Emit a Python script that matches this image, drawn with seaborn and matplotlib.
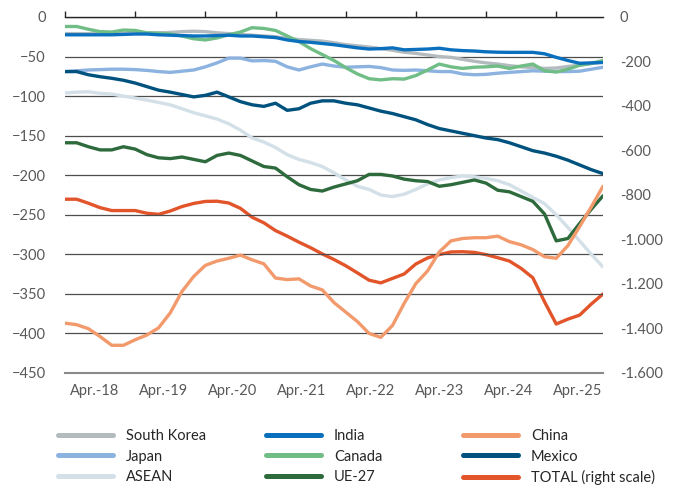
import matplotlib
matplotlib.use("Agg")
import matplotlib.pyplot as plt
import seaborn as sns
import pandas as pd
from matplotlib.lines import Line2D
from matplotlib.ticker import FuncFormatter

# ---- data (month index 0..92, sampled every 2 months) ----
months = list(range(0, 93, 2))
tick_labels = ["Apr.-18", "Apr.-19", "Apr.-20", "Apr.-21",
               "Apr.-22", "Apr.-23", "Apr.-24", "Apr.-25"]

south_korea = [-21, -21, -21, -20.5, -20.5, -20.5, -20, -20, -20, -19.5, -18.5, -18, -18.5, -20, -21, -22,
               -23, -24, -25, -27, -28.5, -29.5, -30.5, -32.5, -35, -36.5, -38, -40, -42, -44.5, -46, -48,
               -50, -51, -53.5, -56, -58, -59.5, -61.5, -63, -64, -65, -64.5, -62.5, -61, -59, -57]
india = [-22.5, -22.5, -22.5, -22.5, -22.5, -22, -21.5, -21.5, -22.5, -23, -23.5, -24, -24, -23.5, -23, -24,
         -24, -25, -26, -29, -31, -32, -33.5, -35, -37, -39, -40.5, -40, -39, -41.5, -41, -40.5,
         -39.5, -41.5, -42.5, -43, -44, -44.5, -44.7, -44.7, -44.7, -46.5, -51, -55, -58.5, -58, -57.5]
china = [-387, -389, -394, -404, -415, -415, -408, -402, -393, -374, -347, -328, -314, -308.5, -305, -301,
         -307, -312, -330, -332, -331, -340, -345, -361, -373, -385, -400, -405, -390, -362, -337, -321,
         -297, -283, -280, -279, -279, -277, -284, -288, -294, -303, -305, -289, -265, -240, -214]
japan = [-69, -68, -67, -66.5, -66, -66, -66.5, -67.5, -69, -70, -68.5, -67, -63, -58, -52, -52,
         -55.5, -55, -56, -63, -67, -63, -59.5, -62, -63.5, -63, -62.5, -64, -67, -67.5, -67, -68,
         -69, -69, -72, -73, -72.5, -71, -70, -69, -68, -68.5, -69, -69, -68.5, -66, -63.5]
canada = [-12, -12, -15.5, -18.5, -19, -16.5, -17, -20, -20.5, -21.5, -24, -27.5, -29, -26.5, -22.5, -19,
          -13.5, -14.5, -17, -24, -31, -40, -47.5, -55, -64, -72, -78, -79.5, -78, -78.5, -74, -67,
          -59.5, -63, -65, -63.5, -63, -62, -65, -62, -59.5, -68, -69.5, -66, -61, -58.5, -55]
mexico = [-69, -69, -73, -75.5, -77.5, -80, -83.5, -88, -92.5, -95, -98, -101, -99, -95, -101, -107,
          -111, -113, -109, -118, -116, -109, -106, -106, -109, -111, -115, -119, -122, -126, -130, -136,
          -141, -144, -147, -150, -153, -155, -159, -164, -169, -172, -176, -181, -187, -193, -198]
asean = [-96, -95, -94.5, -96.5, -97.5, -100, -102.5, -105, -108, -111, -116, -121, -125, -129, -135, -143,
         -153, -158, -165, -174, -180, -184, -189, -197, -206, -214, -218, -225, -227, -224, -218, -211,
         -206, -203, -201, -202, -204, -207, -212, -220, -228, -236, -250, -266, -283, -300, -316]
ue27 = [-159, -159, -164, -168, -168, -164, -167, -174, -178, -179, -177, -180, -183, -175, -172, -175,
        -182, -189, -191, -202, -212, -218, -220, -215, -211, -207, -199, -199, -201, -205, -207, -208,
        -214, -212, -209, -206, -210, -219, -221, -227, -233, -249, -283, -280, -261, -243, -226]
total = [-819, -819, -837, -857, -870, -870, -870, -882, -887, -872, -852, -838, -829, -828, -836, -860,
         -900, -925, -960, -985, -1012, -1037, -1065, -1090, -1118, -1150, -1183, -1195, -1175, -1155, -1110, -1083,
         -1068, -1056, -1055, -1058, -1068, -1082, -1097, -1130, -1172, -1280, -1380, -1358, -1340, -1290, -1245]

colors = {
    "South Korea": "#b3bbbe",
    "India": "#0a70bd",
    "China": "#f39a6d",
    "Japan": "#8cb2e0",
    "Canada": "#70bd86",
    "Mexico": "#00527e",
    "ASEAN": "#d3e0e8",
    "UE-27": "#2d6a3c",
    "TOTAL (right scale)": "#e2542a",
}

left = pd.DataFrame({"month": months, "South Korea": south_korea, "India": india, "China": china,
                     "Japan": japan, "Canada": canada, "Mexico": mexico, "ASEAN": asean, "UE-27": ue27})
left_long = left.melt(id_vars="month", var_name="series", value_name="value")
right = pd.DataFrame({"month": months, "value": total})

draw_order = ["ASEAN", "South Korea", "Japan", "Canada", "India", "Mexico", "UE-27", "China"]

sns.set_theme(style="white")
plt.rcParams["font.family"] = ["Lato", "DejaVu Sans"]

fig = plt.figure(figsize=(6.82, 4.87), dpi=100)
ax = fig.add_axes([65 / 682, 1 - 374 / 487, (603 - 65) / 682, (374 - 17) / 487])
ax2 = ax.twinx()

sns.lineplot(data=right, x="month", y="value", color=colors["TOTAL (right scale)"], lw=2.4,
             ax=ax2, legend=False)
sns.lineplot(data=left_long, x="month", y="value", hue="series", hue_order=draw_order,
             palette=colors, lw=2.4, ax=ax, legend=False)

ax.set_zorder(ax2.get_zorder() + 1)
ax.patch.set_visible(False)

ax.set_xlim(0, 92)
ax.set_ylim(-451.3, 0)
ax2.set_ylim(-1600 * 451.3 / 450, 0)
ax.set_xlabel("")
ax.set_ylabel("")
ax2.set_ylabel("")

tc = "#595959"
ax.set_yticks(range(-450, 1, 50))
ax.tick_params(axis="y", length=0, pad=14, labelsize=10.5, labelcolor=tc)
ax2.set_yticks(range(-1600, 1, 200))
ax2.yaxis.set_major_formatter(FuncFormatter(lambda v, p: f"{int(v):,}".replace(",", ".")))
ax2.tick_params(axis="y", length=0, pad=12, labelsize=10.5, labelcolor=tc)

ax.set_xticks(range(0, 85, 12))
ax.set_xticklabels([""] * 8)
ax.tick_params(axis="x", which="major", bottom=False, top=True, labelbottom=False, labeltop=False,
               direction="out", length=4, width=1, color="#262626")
label_pos = [5.0 + 11.8 * k for k in range(len(tick_labels))]
ax.set_xticks(label_pos, minor=True)
ax.set_xticklabels(tick_labels, minor=True)
ax.tick_params(axis="x", which="minor", bottom=True, top=False, length=0, labelbottom=True,
               pad=8, labelsize=10.5, labelcolor=tc)

ax.yaxis.grid(True, color="#4d4d4d", lw=0.9)
ax.xaxis.grid(False)
# bottom baseline at -450 (gray), drawn as the bottom spine
for s in ["left", "right"]:
    ax.spines[s].set_visible(False)
ax.spines["bottom"].set_visible(True)
ax.spines["bottom"].set_position(("data", -450))
ax.spines["bottom"].set_color("#8a8a8a")
ax.spines["bottom"].set_linewidth(1.5)
ax.spines["top"].set_visible(True)
ax.spines["top"].set_color("#262626")
ax.spines["top"].set_linewidth(1.0)
for s in ax2.spines.values():
    s.set_visible(False)

# legend: three columns
cols = [["South Korea", "Japan", "ASEAN"],
        ["India", "Canada", "UE-27"],
        ["China", "Mexico", "TOTAL (right scale)"]]
xs = [58, 266, 463]
for names, x0 in zip(cols, xs):
    handles = [Line2D([0], [0], color=colors[n], lw=3.6, solid_capstyle="round") for n in names]
    fig.legend(handles, names, loc="upper left", bbox_to_anchor=(x0 / 682, 1 - 429 / 487),
               frameon=False, borderpad=0, borderaxespad=0, handlelength=3.8, handletextpad=0.85,
               labelspacing=0.45, fontsize=10.5, labelcolor="#262626", alignment="left")

fig.savefig("out.png", dpi=100, facecolor="white")
